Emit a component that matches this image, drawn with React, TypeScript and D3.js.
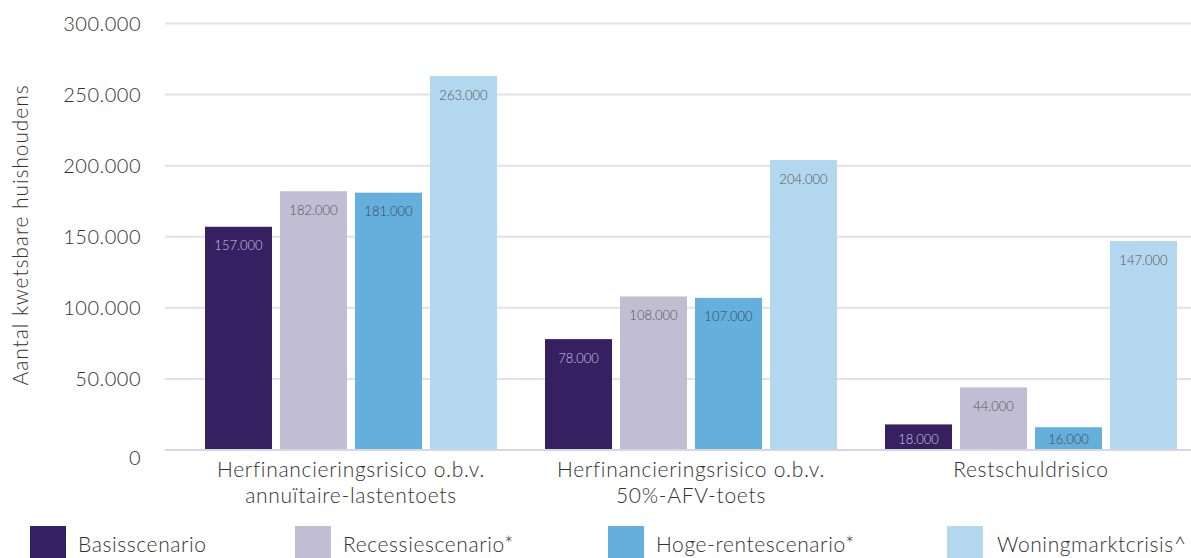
import React from "react";
import * as d3 from "d3";

const categories: string[][] = [
  ["Herfinancieringsrisico o.b.v.", "annuïtaire-lastentoets"],
  ["Herfinancieringsrisico o.b.v.", "50%-AFV-toets"],
  ["Restschuldrisico"],
];
const seriesNames = ["Basisscenario", "Recessiescenario*", "Hoge-rentescenario*", "Woningmarktcrisis^"];
const basis = [157000, 78000, 18000];
const recessie = [182000, 108000, 44000];
const hogeRente = [181000, 107000, 16000];
const woningmarkt = [263000, 204000, 147000];
const yTicks = [0, 50000, 100000, 150000, 200000, 250000, 300000];
const yLabel = "Aantal kwetsbare huishoudens";

const colors = ["#362062", "#c1bdd3", "#65afdc", "#b3d7ee"];
const labelColors = ["#c9c4dc", "#555555", "#3a4a5a", "#555555"];

const W = 1191;
const H = 558;
const FONT = "Lato, 'Open Sans', sans-serif";

const fmt = (v: number) => {
  if (v === 0) return "0";
  const th = Math.floor(v / 1000);
  return `${th}.000`;
};

export default function App() {
  const series = [basis, recessie, hogeRente, woningmarkt];
  const y = d3.scaleLinear().domain([0, 300000]).range([450, 23.5]);
  const x0 = d3.scaleBand<number>().domain([0, 1, 2]).range([181, 1201]);
  const x1 = d3
    .scaleBand<number>()
    .domain([0, 1, 2, 3])
    .range([24, 316])
    .paddingInner(8 / 75)
    .paddingOuter(0);

  const legendX = [30, 295, 608, 947];

  return (
    <div style={{ position: "absolute", left: 0, top: 0 }}>
      <svg width={W} height={H} style={{ display: "block", background: "#fff" }}>
        {yTicks.map((t) => (
          <g key={t}>
            <line
              x1={165}
              x2={W}
              y1={y(t)}
              y2={y(t)}
              stroke={t === 0 ? "#d8d6e2" : "#e2e1ea"}
              strokeWidth={2}
            />
            <text
              x={141}
              y={y(t) + (t === 0 ? 8 : 0)}
              dy="0.35em"
              textAnchor="end"
              fontFamily={FONT}
              fontWeight={300}
              fontSize={20}
              letterSpacing={0.5}
              fill="#333"
            >
              {fmt(t)}
            </text>
          </g>
        ))}
        <text
          transform="translate(28,235) rotate(-90)"
          textAnchor="middle"
          fontFamily={FONT}
          fontWeight={300}
          fontSize={21}
          letterSpacing={0.9}
          fill="#333"
        >
          {yLabel}
        </text>
        {categories.map((cat, ci) => (
          <g key={ci} transform={`translate(${x0(ci)},0)`}>
            {series.map((s, si) => {
              const bx = x1(si)!;
              const bw = x1.bandwidth();
              const top = y(s[ci]);
              const ly = Math.min(top + 19, y(0) - 11);
              return (
                <g key={si}>
                  <rect x={bx} y={top} width={bw} height={y(0) - 1 - top} fill={colors[si]} />
                  <text
                    x={bx + bw / 2}
                    y={ly}
                    dy="0.35em"
                    textAnchor="middle"
                    fontFamily={FONT}
                    fontWeight={300}
                    fontSize={13}
                    fill={labelColors[si]}
                  >
                    {fmt(s[ci])}
                  </text>
                </g>
              );
            })}
            {cat.map((line, li) => (
              <text
                key={li}
                x={x0.bandwidth() / 2}
                y={470 + li * 26}
                dy="0.35em"
                textAnchor="middle"
                fontFamily={FONT}
                fontWeight={300}
                fontSize={21}
                letterSpacing={0.7}
                fill="#333"
              >
                {line}
              </text>
            ))}
          </g>
        ))}
        {seriesNames.map((n, i) => (
          <g key={n}>
            <rect x={legendX[i]} y={526} width={36} height={32} fill={colors[i]} />
            <text
              x={legendX[i] + (i === 3 ? 50 : 48)}
              y={545}
              dy="0.35em"
              fontFamily={FONT}
              fontWeight={300}
              fontSize={21}
              letterSpacing={0.6}
              fill="#333"
            >
              {n}
            </text>
          </g>
        ))}
      </svg>
    </div>
  );
}
